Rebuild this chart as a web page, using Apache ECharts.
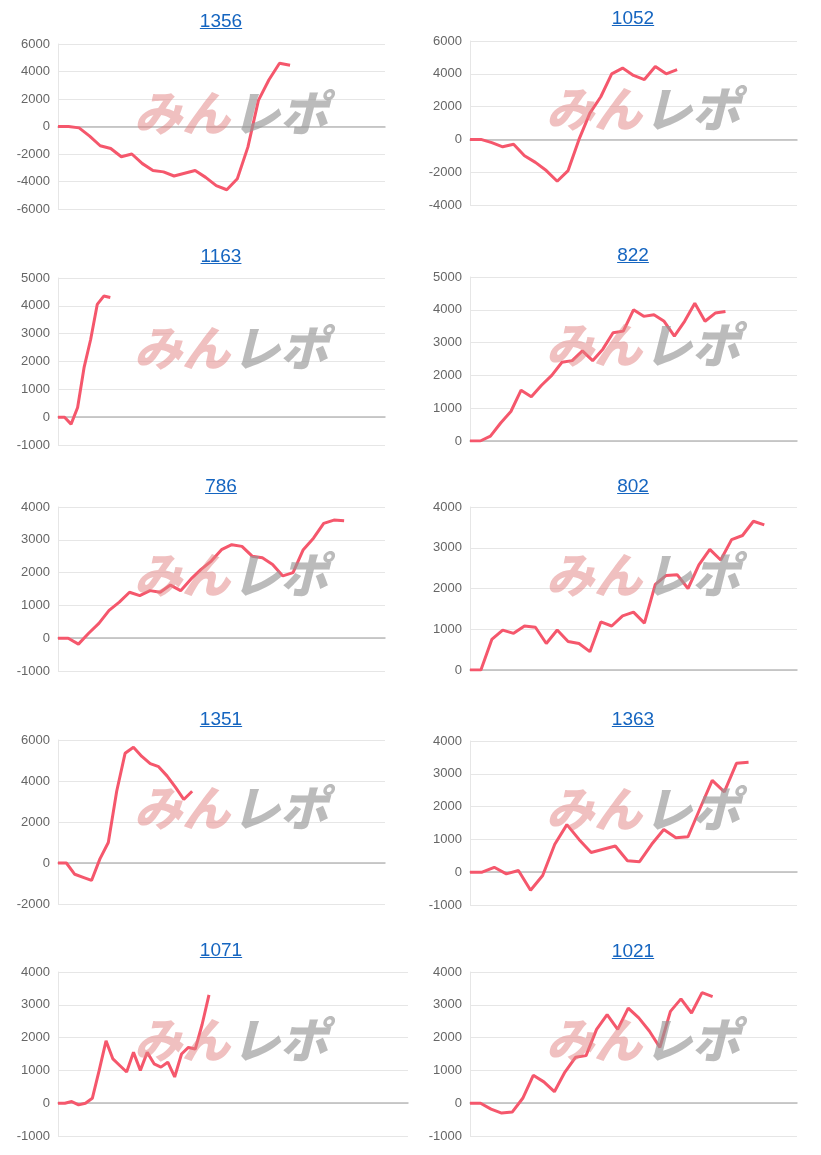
<!DOCTYPE html>
<html><head><meta charset="utf-8">
<script src="https://cdn.jsdelivr.net/npm/echarts@6/dist/echarts.min.js"></script>
<style>
html,body{margin:0;padding:0;background:#fff;}
#c{width:821px;height:1155px;position:absolute;left:0;top:0;}
.t{position:absolute;font-family:"Liberation Sans",Arial,sans-serif;font-size:19px;color:#1565c0;text-decoration:underline;transform:translateX(-50%);}
</style></head>
<body><div id="c"></div>
<script>
const titles = ['1356','1052','1163','822','786','802','1351','1363','1071','1021'];
const s1356 = [0,0,-100,-700,-1400,-1600,-2200,-2000,-2700,-3200,-3300,-3600,-3400,-3200,-3700,-4300,-4600,-3800,-1500,1900,3400,4600,4450];
const s1052 = [0,0,-200,-450,-300,-1000,-1400,-1900,-2550,-1900,0,1600,2600,4000,4350,3900,3650,4450,4000,4250];
const s1163 = [0,0,-250,350,1800,2800,4050,4350,4300];
const s822 = [0,0,150,550,900,1550,1350,1700,2000,2400,2450,2750,2450,2800,3300,3350,4000,3800,3850,3650,3200,3650,4200,3650,3900,3950];
const s786 = [0,0,-180,150,450,850,1100,1400,1300,1450,1400,1620,1450,1800,2100,2350,2700,2850,2800,2500,2450,2250,1900,2000,2700,3050,3500,3600,3580];
const s802 = [0,0,750,980,900,1080,1050,650,980,700,650,450,1180,1080,1330,1420,1150,2100,2320,2340,2000,2580,2960,2700,3200,3300,3650,3560];
const s1351 = [0,0,-550,-700,-850,200,1000,3500,5350,5650,5200,4850,4700,4250,3700,3100,3500];
const s1363 = [0,0,150,-50,50,-550,-100,850,1450,1000,600,700,800,350,320,850,1300,1050,1080,1950,2800,2450,3320,3350];
const s1071 = [0,0,50,-50,0,150,1000,1900,1350,1150,950,1550,1000,1550,1200,1100,1250,800,1500,1700,1650,2400,3300];
const s1021 = [0,0,-180,-300,-270,150,850,650,350,950,1400,1450,2250,2700,2250,2900,2600,2200,1700,2800,3180,2750,3370,3250];
const seriesList = [s1356,s1052,s1163,s822,s786,s802,s1351,s1363,s1071,s1021];
const slots = [32,31,51,33,33,31,40,28,52,32];
const yMin = [-6000,-4000,-1000,0,-1000,0,-2000,-1000,-1000,-1000];
const yMax = [6000,6000,5000,5000,4000,4000,6000,4000,4000,4000];
const yStep = [2000,2000,1000,1000,1000,1000,2000,1000,1000,1000];

const boxes = [
 {l:58,r:385,t:44,b:209,ty:10},{l:470,r:797,t:41,b:205,ty:7},
 {l:58,r:385,t:278,b:445,ty:245},{l:470,r:797,t:277,b:441,ty:244},
 {l:58,r:385,t:507,b:671,ty:475},{l:470,r:797,t:507,b:670,ty:475},
 {l:58,r:385,t:740,b:904,ty:708},{l:470,r:797,t:741,b:905,ty:708},
 {l:58,r:408,t:972,b:1136,ty:939},{l:470,r:797,t:972,b:1136,ty:940}
];
const grids=[],xAxes=[],yAxes=[],series=[],graphics=[];
boxes.forEach((b,i)=>{
  const d=document.createElement('div');d.className='t';d.textContent=titles[i];
  d.style.left=((i%2?470:58)+163)+'px';d.style.top=b.ty+'px';document.body.appendChild(d);
  grids.push({left:b.l,top:b.t,width:b.r-b.l,height:b.b-b.t});
  xAxes.push({gridIndex:i,type:'category',boundaryGap:false,data:Array.from({length:slots[i]},(_,k)=>k),
    axisLabel:{show:false},axisTick:{show:false},axisLine:{onZero:true,lineStyle:{color:'#bbb',width:1.5}},splitLine:{show:false}});
  yAxes.push({gridIndex:i,type:'value',min:yMin[i],max:yMax[i],interval:yStep[i],
    axisLabel:{color:'#666',fontSize:13,fontFamily:'Liberation Sans',margin:8,formatter:v=>String(v)},
    axisLine:{show:true,lineStyle:{color:'#e6e6e6'}},axisTick:{show:false},
    splitLine:{lineStyle:{color:'#e6e6e6'}}});
  series.push({type:'line',xAxisIndex:i,yAxisIndex:i,data:seriesList[i],showSymbol:false,
    lineStyle:{color:'#f5576c',width:3},itemStyle:{color:'#f5576c'},z:1});
  const cx=(i%2?470:58)+76, cy=(b.t+b.b)/2-38;
  graphics.push({type:'text',left:cx,top:cy,z:10,style:{text:'みん',font:'italic 900 48px "Noto Sans CJK JP"',fill:'rgba(225,130,130,0.5)'}});
  graphics.push({type:'text',left:cx+98,top:cy,z:10,style:{text:'レポ',font:'italic 900 48px "Noto Sans CJK JP"',fill:'rgba(150,150,150,0.65)'}});
});
const chart=echarts.init(document.getElementById('c'));
chart.setOption({animation:false,grid:grids,xAxis:xAxes,yAxis:yAxes,series:series,graphic:graphics});
</script></body></html>
